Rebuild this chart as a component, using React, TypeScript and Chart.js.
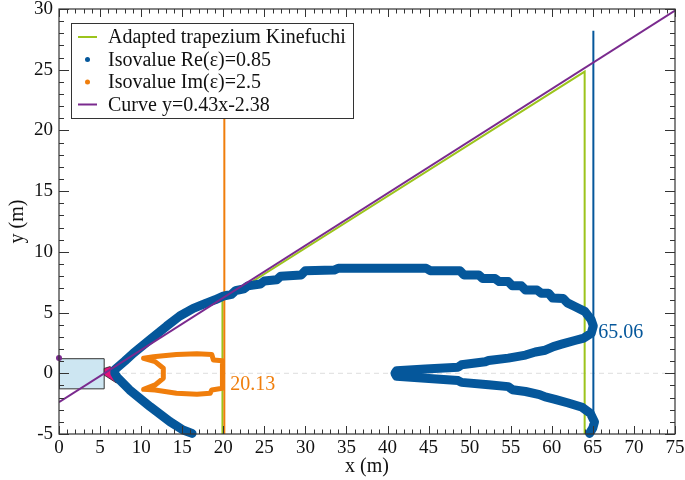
import { useEffect, useRef } from "react";
import { Chart, registerables } from "chart.js";
Chart.register(...registerables);

const FONT = "'Liberation Serif', 'Times New Roman', serif";

const xTickValues = [0, 5, 10, 15, 20, 25, 30, 35, 40, 45, 50, 55, 60, 65, 70, 75];
const yTickValues = [-5, 0, 5, 10, 15, 20, 25, 30];

const legendLabels = [
  "Adapted trapezium Kinefuchi",
  "Isovalue Re(\u03b5)=0.85",
  "Isovalue Im(\u03b5)=2.5",
  "Curve y=0.43x-2.38",
];

const trapezium: [number, number][] = [[19.9, -5], [19.9, 6.0], [64, 24.85], [64, -5]];
const curveLine: [number, number][] = [[0, -2.38], [75, 29.87]];
const curveDot: [number, number][] = [[0, 1.25]];
const imVertical: [number, number][] = [[20.13, -5], [20.13, 21.0]];
const reVertical: [number, number][] = [[65.06, -5], [65.06, 28.2]];
const sourceBox: [number, number][] = [[0, -1.28], [5.5, -1.28], [5.5, 1.2], [0, 1.2], [0, -1.28]];
const horn: [number, number][] = [[5.5, 0.4], [6.2, 0.55], [7.0, 0.2], [7.0, -0.8], [5.5, -0.15], [5.5, 0.4]];

const reCurve: [number, number][] = [
  [16.2, -4.95], [15.1, -4.67], [13.5, -3.98], [11.1, -2.75], [8.6, -1.37], [7.1, -0.35], [6.8, 0.0], [6.8, 0.3],
  [8.0, 1.0], [9.05, 1.65], [11.1, 2.78], [13.1, 3.88], [14.7, 4.72], [16.35, 5.35], [18.0, 5.8], [19.0, 6.05],
  [20.0, 6.35], [21.0, 6.5], [21.5, 6.8], [22.5, 6.95], [23.0, 7.2], [24.5, 7.35], [25.0, 7.6], [26.5, 7.7],
  [27.0, 8.0], [29.5, 8.1], [30.0, 8.45], [33.5, 8.5], [34.0, 8.65], [44.7, 8.65], [45.2, 8.45], [48.8, 8.45],
  [49.3, 8.1], [51.1, 8.1], [51.6, 7.8], [53.1, 7.8], [53.6, 7.55], [54.7, 7.55], [55.2, 7.2], [56.3, 7.2],
  [56.8, 6.86], [58.2, 6.86], [58.7, 6.6], [59.6, 6.6], [60.1, 6.2], [61.4, 6.15], [61.9, 5.8], [62.8, 5.5],
  [64.0, 5.1], [64.8, 4.4], [65.05, 3.9], [64.8, 3.3], [63.9, 2.9], [62.8, 2.7], [61.2, 2.4], [60.2, 2.2],
  [59.2, 1.9], [58.0, 1.75], [56.8, 1.5], [54.7, 1.25], [52.3, 1.05], [51.9, 0.95], [49.0, 0.7], [48.6, 0.5],
  [44.6, 0.35], [41.1, 0.2], [40.9, 0.0], [41.1, -0.25], [44.6, -0.4], [48.6, -0.6], [49.0, -0.75], [52.3, -0.95],
  [54.7, -1.1], [55.2, -1.35], [56.8, -1.5], [58.5, -1.75], [59.2, -1.95], [60.4, -2.15], [62.0, -2.45],
  [63.7, -2.8], [64.7, -3.3], [65.2, -4.0], [65.0, -4.5], [64.6, -4.95],
];

const imCurve: [number, number][] = [
  [10.3, 1.24], [11.5, 1.37], [12.7, 1.45], [14.3, 1.55], [16.8, 1.6], [18.6, 1.55], [18.8, 1.1], [19.9, 1.04],
  [19.9, 0], [19.9, -1.24], [18.6, -1.37], [18.4, -1.65], [16.8, -1.73], [14.3, -1.65], [11.7, -1.37],
  [10.3, -1.32], [11.7, -0.96], [12.7, -0.41], [12.7, 0.41], [11.7, 0.96], [10.3, 1.24],
];

const annotations: { text: string; x: number; y: number; color: string }[] = [
  { text: "20.13", x: 20.85, y: -0.97, color: "#f07e0c" },
  { text: "65.06", x: 65.65, y: 3.3, color: "#05579b" },
];

const GREEN = "#9cc41c";
const BLUE = "#05579b";
const ORANGE = "#f07e0c";
const PURPLE = "#7a2a8e";
const PINK = "#e2137b";

const pts = (a: [number, number][]) => a.map(([x, y]) => ({ x, y }));

export default function App() {
  const ref = useRef<HTMLCanvasElement | null>(null);
  useEffect(() => {
    document.body.style.margin = "0";
    const canvas = ref.current!;
    const framePlugin = {
      id: "frame",
      beforeDatasetsDraw(chart: any) {
        const { ctx, chartArea: a, scales } = chart;
        const y0 = scales.y.getPixelForValue(0);
        ctx.save();
        ctx.strokeStyle = "#dddddd";
        ctx.lineWidth = 1;
        ctx.setLineDash([5, 4]);
        ctx.beginPath();
        ctx.moveTo(a.left, y0);
        ctx.lineTo(a.right, y0);
        ctx.stroke();
        ctx.restore();
      },
      afterDatasetsDraw(chart: any) {
        const { ctx, chartArea: a, scales } = chart;
        const xs = scales.x, ys = scales.y;
        ctx.save();
        ctx.strokeStyle = "#333";
        ctx.lineWidth = 1.2;
        ctx.strokeRect(a.left, a.top, a.right - a.left, a.bottom - a.top);
        ctx.beginPath();
        for (let v = xs.min; v <= xs.max; v += 1) {
          const px = Math.round(xs.getPixelForValue(v)) + 0.5;
          const len = v % 5 === 0 ? 8 : 4.5;
          ctx.moveTo(px, a.bottom); ctx.lineTo(px, a.bottom - len);
          ctx.moveTo(px, a.top); ctx.lineTo(px, a.top + len);
        }
        for (let v = ys.min; v <= ys.max; v += 1) {
          const py = Math.round(ys.getPixelForValue(v)) + 0.5;
          const len = v % 5 === 0 ? 10 : 5;
          ctx.moveTo(a.left, py); ctx.lineTo(a.left + len, py);
          ctx.moveTo(a.right, py); ctx.lineTo(a.right - len, py);
        }
        ctx.lineWidth = 1;
        ctx.stroke();

        // annotations
        ctx.font = `20px ${FONT}`;
        ctx.textBaseline = "middle";
        ctx.textAlign = "left";
        for (const an of annotations) {
          ctx.fillStyle = an.color;
          ctx.fillText(an.text, xs.getPixelForValue(an.x), ys.getPixelForValue(an.y));
        }

        // legend
        const bx = 71, by = 23, bw = 282, bh = 95;
        ctx.fillStyle = "#fff";
        ctx.fillRect(bx, by, bw, bh);
        ctx.strokeStyle = "#333";
        ctx.lineWidth = 1;
        ctx.strokeRect(bx + 0.5, by + 0.5, bw, bh);
        const colors = [GREEN, BLUE, ORANGE, PURPLE];
        const kinds = ["line", "dot", "dot", "line"];
        ctx.font = `20px ${FONT}`;
        legendLabels.forEach((lab, i) => {
          const cy = by + 14 + i * 22.5;
          ctx.strokeStyle = colors[i];
          ctx.fillStyle = colors[i];
          if (kinds[i] === "line") {
            ctx.lineWidth = 2;
            ctx.beginPath();
            ctx.moveTo(78, cy); ctx.lineTo(97, cy);
            ctx.stroke();
          } else {
            ctx.beginPath();
            ctx.arc(87.5, cy, 2.5, 0, Math.PI * 2);
            ctx.fill();
          }
          ctx.fillStyle = "#111";
          ctx.textAlign = "left";
          ctx.fillText(lab, 108, cy + 1);
        });
        ctx.restore();
      },
    };

    const zeroPad = (s: any) => { s.paddingTop = 0; s.paddingBottom = 0; s.paddingLeft = 0; s.paddingRight = 0; };

    const chart = new Chart(canvas, {
      type: "scatter",
      data: {
        datasets: [
          { label: "dot", data: pts(curveDot), pointRadius: 3, pointBackgroundColor: PURPLE, pointBorderWidth: 0, showLine: false, order: 1, clip: false },
          { label: "curve", data: pts(curveLine), borderColor: PURPLE, borderWidth: 2, pointRadius: 0, showLine: true, order: 2 },
          { label: "re", data: pts(reCurve), borderColor: BLUE, borderWidth: 9, pointRadius: 0, showLine: true, borderCapStyle: "round", borderJoinStyle: "round", order: 3, clip: false },
          { label: "im", data: pts(imCurve), borderColor: ORANGE, borderWidth: 5, pointRadius: 0, showLine: true, borderCapStyle: "round", borderJoinStyle: "round", order: 4 },
          { label: "reV", data: pts(reVertical), borderColor: BLUE, borderWidth: 2, pointRadius: 0, showLine: true, order: 5 },
          { label: "imV", data: pts(imVertical), borderColor: ORANGE, borderWidth: 2, pointRadius: 0, showLine: true, order: 6 },
          { label: "trap", data: pts(trapezium), borderColor: GREEN, borderWidth: 2, pointRadius: 0, showLine: true, order: 7 },
          { label: "horn", data: pts(horn), borderColor: "#222", borderWidth: 0.8, backgroundColor: PINK, fill: "shape", pointRadius: 0, showLine: true, order: 8 },
          { label: "box", data: pts(sourceBox), borderColor: "#333", borderWidth: 1, backgroundColor: "#cde6f2", fill: "shape", pointRadius: 0, showLine: true, order: 9 },
        ] as any,
      },
      options: {
        animation: false,
        responsive: false,
        layout: { padding: { top: 9, right: 10, left: 0, bottom: 0 } },
        plugins: { legend: { display: false }, tooltip: { enabled: false } },
        scales: {
          x: {
            type: "linear",
            min: 0,
            max: 75,
            grid: { display: false, drawTicks: false },
            border: { display: false },
            afterBuildTicks: (s: any) => { s.ticks = xTickValues.map((v) => ({ value: v })); },
            afterFit: (s: any) => { s.height = 46; zeroPad(s); },
            ticks: { font: { family: FONT, size: 19 }, color: "#111", padding: 3, maxRotation: 0, autoSkip: false },
            title: { display: true, text: "x (m)", font: { family: FONT, size: 20 }, color: "#111", padding: { top: 0, bottom: 1 } },
          },
          y: {
            type: "linear",
            min: -5,
            max: 30,
            grid: { display: false, drawTicks: false },
            border: { display: false },
            afterBuildTicks: (s: any) => { s.ticks = yTickValues.map((v) => ({ value: v })); },
            afterFit: (s: any) => { s.width = 59; zeroPad(s); },
            ticks: { font: { family: FONT, size: 19 }, color: "#111", padding: 6, autoSkip: false },
            title: { display: true, text: "y (m)", font: { family: FONT, size: 20 }, color: "#111", padding: { top: 6, bottom: 0 } },
          },
        },
      } as any,
      plugins: [framePlugin],
    });
    return () => chart.destroy();
  }, []);
  return (
    <div style={{ width: 685, height: 480 }}>
      <canvas ref={ref} width={685} height={480} />
    </div>
  );
}
